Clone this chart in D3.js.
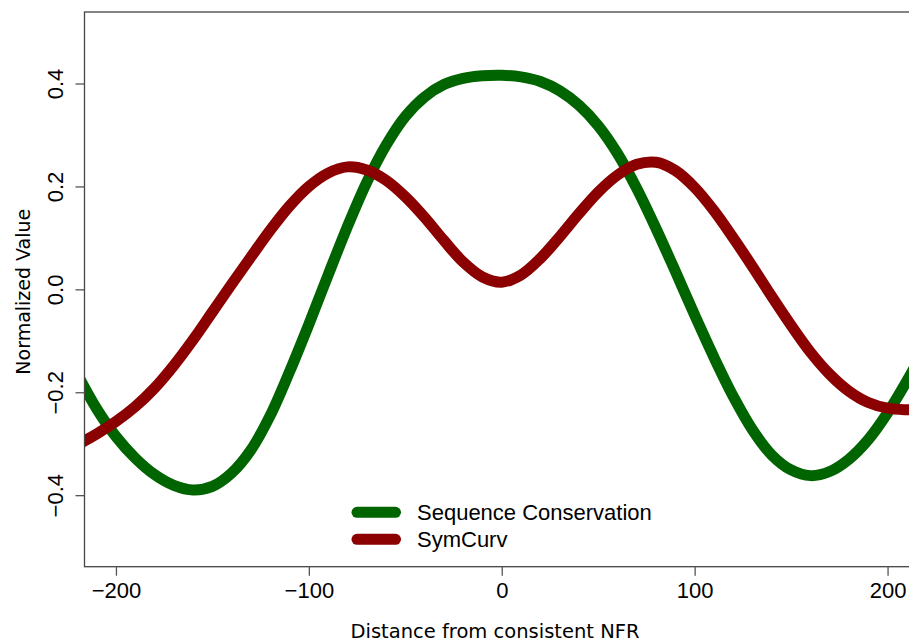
<!DOCTYPE html>
<html>
<head>
<meta charset="utf-8">
<script src="https://cdn.jsdelivr.net/npm/d3@7"></script>
<style>
  body { margin: 0; background: #fff; }
  svg { display: block; }
</style>
</head>
<body>
<script>
// positions (bp) relative to the consistent NFR
const positions = [-220,-210,-200,-190,-180,-170,-160,-150,-140,-130,-120,-110,-100,-90,-80,-70,-60,-50,-40,-30,-20,-10,
                   0,10,20,30,40,50,60,70,80,90,100,110,120,130,140,150,160,170,180,190,200,210,220];
// Sequence Conservation
const conservation = [-0.165,-0.232,-0.286,-0.328,-0.36,-0.381,-0.39,-0.383,-0.357,-0.312,-0.245,-0.16,-0.068,0.028,0.122,0.208,0.28,0.336,0.374,0.398,0.41,0.415,
                      0.416,0.413,0.404,0.386,0.358,0.318,0.264,0.196,0.118,0.035,-0.05,-0.132,-0.208,-0.273,-0.322,-0.351,-0.362,-0.354,-0.33,-0.292,-0.24,-0.178,-0.11];
// SymCurv
const symcurv = [-0.302,-0.281,-0.257,-0.228,-0.192,-0.148,-0.098,-0.044,0.01,0.063,0.115,0.162,0.2,0.226,0.238,0.232,0.212,0.18,0.14,0.095,0.053,0.024,
                 0.014,0.028,0.06,0.102,0.147,0.189,0.222,0.243,0.247,0.231,0.198,0.153,0.1,0.044,-0.014,-0.07,-0.122,-0.165,-0.198,-0.22,-0.231,-0.234,-0.234];

const seriesNames = ["Sequence Conservation", "SymCurv"];
const seriesColors = ["#006400", "#8b0000"];
const xTicks = [-200, -100, 0, 100, 200];
const yTicks = [-0.4, -0.2, 0.0, 0.2, 0.4];

const w = 909, h = 642;
const plotL = 84.5, plotR = 919, plotT = 12, plotB = 566.7;

const svg = d3.select("body").append("svg")
    .attr("width", w)
    .attr("height", h);

const x = d3.scaleLinear().domain([-216.3, 216.3]).range([plotL, plotR]);
const y = d3.scaleLinear().domain([-0.539, 0.539]).range([plotB, plotT]);

svg.append("clipPath").attr("id", "plot")
  .append("rect")
    .attr("x", plotL).attr("y", plotT)
    .attr("width", plotR - plotL).attr("height", plotB - plotT);

const line = d3.line()
    .x((d, i) => x(positions[i]))
    .y(d => y(d))
    .curve(d3.curveCatmullRom);

svg.append("g").attr("clip-path", "url(#plot)")
  .selectAll("path")
  .data([conservation, symcurv])
  .enter()
  .append("path")
    .attr("d", d => line(d))
    .attr("fill", "none")
    .attr("stroke", (d, i) => seriesColors[i])
    .attr("stroke-width", 11)
    .attr("stroke-linejoin", "round")
    .attr("stroke-linecap", "round");

// box
svg.append("rect")
    .attr("x", plotL).attr("y", plotT)
    .attr("width", plotR - plotL).attr("height", plotB - plotT)
    .attr("fill", "none")
    .attr("stroke", "#444")
    .attr("stroke-width", 1.3);

const fmtX = d => d < 0 ? "\u2212" + Math.abs(d) : String(d);
const xAxis = d3.axisBottom(x).tickValues(xTicks).tickSize(9).tickFormat(fmtX);
const gx = svg.append("g")
    .attr("transform", "translate(0," + plotB + ")")
    .call(xAxis);
gx.select(".domain").remove();
gx.selectAll(".tick line").attr("stroke", "#555").attr("stroke-width", 1.3);
gx.selectAll(".tick text")
    .attr("y", 31.3).attr("dy", 0)
    .attr("fill", "#000")
    .style("font-family", "'Liberation Sans', Arial, sans-serif")
    .style("font-size", "22px");

const yAxis = d3.axisLeft(y).tickValues(yTicks).tickSize(9).tickFormat(d3.format(".1f"));
const gy = svg.append("g")
    .attr("transform", "translate(" + plotL + ",0)")
    .call(yAxis);
gy.select(".domain").remove();
gy.selectAll(".tick line").attr("stroke", "#555").attr("stroke-width", 1.3);
gy.selectAll(".tick text")
    .attr("transform", "rotate(-90)")
    .attr("x", 0).attr("y", -21.5).attr("dy", 0)
    .attr("text-anchor", "middle")
    .attr("fill", "#000")
    .style("font-family", "'Liberation Sans', Arial, sans-serif")
    .style("font-size", "22px");

// axis titles
svg.append("text")
    .attr("x", 495).attr("y", 638)
    .attr("text-anchor", "middle")
    .style("font-family", "'DejaVu Sans', sans-serif")
    .style("font-size", "19.5px")
    .text("Distance from consistent NFR");

svg.append("text")
    .attr("transform", "translate(30,291.7) rotate(-90)")
    .attr("text-anchor", "middle")
    .style("font-family", "'DejaVu Sans', sans-serif")
    .style("font-size", "19px")
    .text("Normalized Value");

// legend
const legend = svg.append("g").selectAll("g")
  .data(seriesNames)
  .enter()
  .append("g")
    .attr("transform", (d, i) => "translate(0," + (512.3 + i * 27) + ")");
legend.append("line")
    .attr("x1", 357).attr("x2", 395.5)
    .attr("stroke", (d, i) => seriesColors[i])
    .attr("stroke-width", 11)
    .attr("stroke-linecap", "round");
legend.append("text")
    .attr("x", 417).attr("dy", "0.36em")
    .style("font-family", "'Liberation Sans', Arial, sans-serif")
    .style("font-size", "22px")
    .text(d => d);
</script>
</body>
</html>
